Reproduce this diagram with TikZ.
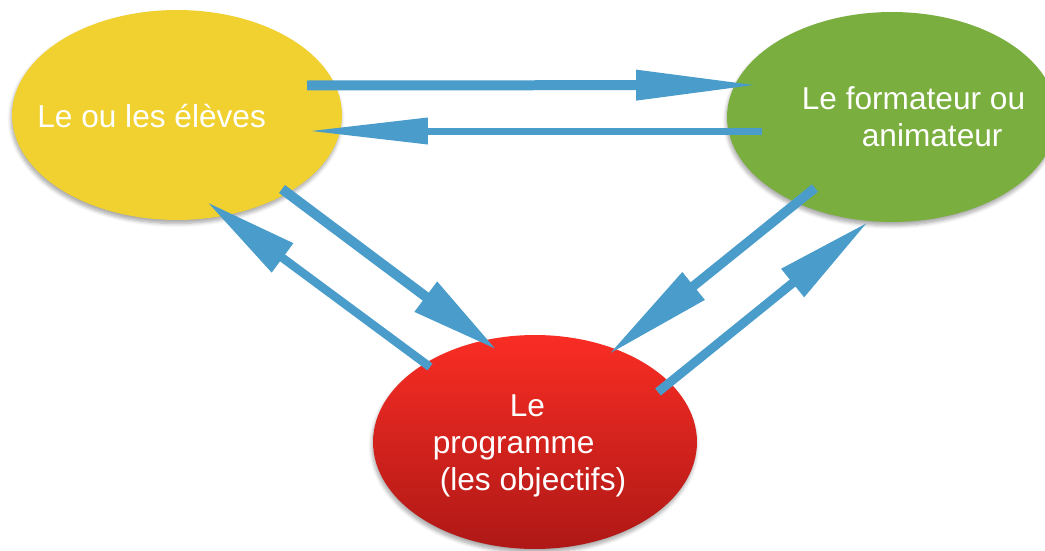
\documentclass[tikz,border=0pt]{standalone}
\usepackage{fontspec}
\setmainfont{Liberation Sans}
\usetikzlibrary{shapes.geometric,arrows.meta,shadows.blur}

\definecolor{eleveyellow}{HTML}{F0D130}
\definecolor{formgreen}{HTML}{7AAE3E}
\definecolor{progredtop}{HTML}{F92D24}
\definecolor{progredbot}{HTML}{AE1816}
\definecolor{linkblue}{HTML}{4A9CCA}

\tikzset{
  blob/.style={ellipse, minimum width=6.6cm, minimum height=4.2cm, inner sep=0pt,
    blur shadow={shadow xshift=-0.5pt, shadow yshift=-2pt, shadow opacity=35, shadow blur steps=6}},
  lbl/.style={text=white, font=\fontsize{18}{21}\selectfont, inner sep=0pt},
  link/.style={draw=linkblue, line width=#1},
}

\begin{document}
\begin{tikzpicture}[x=0.02cm,y=-0.02cm]
\useasboundingbox (0,0) rectangle (1045,551);
% the three ellipses
\node[blob, fill=eleveyellow] (eleves) at (177,115) {};
\node[blob, fill=formgreen] (formateur) at (892,117) {};
\node[blob, minimum width=6.48cm, minimum height=4.28cm,
      top color=progredtop, bottom color=progredbot] (programme) at (535,442) {};
% the labels
\node[lbl, anchor=base west] (televes) at (37,127) {Le ou les élèves};
\node[lbl, align=left] (tformateur) at (913.5,117) {Le formateur ou\\\hspace*{1.2cm}animateur};
\node[lbl, align=left] (tprogramme) at (529.5,446) {\hspace*{1.54cm}Le\\programme\\\hspace*{0.14cm}(les objectifs)};
% ends of the arrows
\coordinate (elevesout) at (307,85.5);
\coordinate (formin) at (760,85);
\coordinate (formout) at (762,131);
\coordinate (elevesin) at (308,131);
\coordinate (elevesdown) at (282,189);
\coordinate (progin) at (497,350);
\coordinate (progup) at (430,367);
\coordinate (elevesback) at (207,202);
\coordinate (formdown) at (815,188);
\coordinate (progright) at (608,355);
\coordinate (progout) at (658,392);
\coordinate (formback) at (868,222);
% the arrows
\draw[link=0.2cm, -{Triangle[length=2.48cm,width=0.56cm]}] (elevesout) -- (formin);
\draw[link=0.14cm, -{Triangle[length=2.4cm,width=0.5cm]}] (formout) -- (elevesin);
\draw[link=0.2cm, -{Triangle[length=1.78cm,width=0.7cm]}] (elevesdown) -- (progin);
\draw[link=0.17cm, -{Triangle[length=1.88cm,width=0.68cm]}] (progup) -- (elevesback);
\draw[link=0.19cm, -{Triangle[length=2.2cm,width=0.66cm]}] (formdown) -- (progright);
\draw[link=0.18cm, -{Triangle[length=1.94cm,width=0.68cm]}] (progout) -- (formback);
\end{tikzpicture}
\end{document}
